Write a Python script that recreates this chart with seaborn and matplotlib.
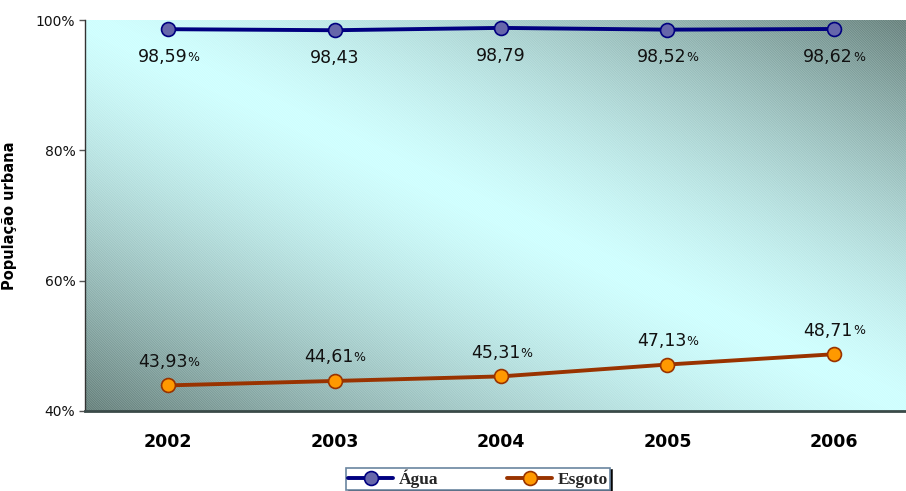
import matplotlib.pyplot as plt
import seaborn as sns
import pandas as pd
import numpy as np
from matplotlib.patches import Rectangle

years = ['2002', '2003', '2004', '2005', '2006']
agua = [98.59, 98.43, 98.79, 98.52, 98.62]
esgoto = [43.93, 44.61, 45.31, 47.13, 48.71]
agua_labels = ['98,59', '98,43', '98,79', '98,52', '98,62']
agua_pct = [True, False, False, True, True]
esgoto_labels = ['43,93', '44,61', '45,31', '47,13', '48,71']
esgoto_pct = [True, True, True, True, True]

sns.set_style('white')
plt.rcParams['font.family'] = ['DejaVu Sans']
plt.rcParams['hatch.linewidth'] = 0.6

df = pd.DataFrame({'pos': range(len(years)), 'Água': agua, 'Esgoto': esgoto})

W, H = 906, 491
fig = plt.figure(figsize=(W / 100, H / 100), dpi=100)
ax = fig.add_axes([85 / W, (H - 411) / H, (917 - 85) / W, (411 - 20) / H])

# gradient: light along the main diagonal, dark in the other two corners
u, v = np.meshgrid(np.linspace(0, 1, 300), np.linspace(0, 1, 300))
t = np.abs(u - v)
light = np.array([0.80, 1.0, 1.0])
dark = np.array([0.36, 0.47, 0.45])
img = light + (dark - light) * t[..., None] ** 1.4
ax.imshow(img, extent=[0, 1, 0, 1], transform=ax.transAxes, aspect='auto',
          origin='upper', zorder=0)
ax.add_patch(Rectangle((0, 0), 1, 1, transform=ax.transAxes, facecolor='none',
                       edgecolor=(1, 1, 1, 0.22), hatch='\\' * 14, lw=0, zorder=0.5))

sns.lineplot(data=df, x='pos', y='Água', ax=ax, color='#000080', lw=2.8,
             marker='o', markersize=10, markerfacecolor='#6666AA',
             markeredgecolor='#000080', markeredgewidth=1.2, label='Água', zorder=3)
sns.lineplot(data=df, x='pos', y='Esgoto', ax=ax, color='#993300', lw=2.8,
             marker='o', markersize=10, markerfacecolor='#FF9900',
             markeredgecolor='#993300', markeredgewidth=1.2, label='Esgoto', zorder=3)


def put_label(x, y, txt, pct, dy):
    tx = ax.annotate(txt, (x, y), xytext=(-4 if pct else 0, dy), textcoords='offset points',
                     ha='center', va='center', fontsize=12.5, color='#111111', zorder=4)
    if pct:
        ax.annotate('%', xy=(1, 0.12), xycoords=tx, ha='left', va='bottom',
                    fontsize=9, color='#111111', zorder=4)


for i in range(len(years)):
    put_label(i, agua[i], agua_labels[i], agua_pct[i], -20)
    put_label(i, esgoto[i], esgoto_labels[i], esgoto_pct[i], 17)

ax.set_xlim(-0.5, 4.5)
ax.set_ylim(40, 100)
ax.set_yticks([40, 60, 80, 100])
ax.set_yticklabels(['40%', '60%', '80%', '100%'], fontsize=10, color='#111111')
ax.set_xticks(range(len(years)))
ax.set_xticklabels(years, fontsize=12.5, fontweight='bold', color='#000000')
ax.set_xticks(np.arange(0.5, 4.5, 1), minor=True)
ax.tick_params(axis='x', which='major', length=0, pad=16)
ax.tick_params(axis='x', which='minor', length=5, width=1, color='#333333', direction='out')
ax.tick_params(axis='y', length=4, width=1, color='#555555', direction='out', pad=3, left=True)
ax.set_xlabel('')
ax.set_ylabel('População urbana', fontsize=10.5, fontweight='bold', color='#000000')
ax.yaxis.set_label_coords(-68 / (917 - 85), 0.5)

for s in ['top', 'right']:
    ax.spines[s].set_visible(False)
ax.spines['left'].set_color('#333333')
ax.spines['left'].set_linewidth(1)
ax.spines['bottom'].set_color('#3a4a48')
ax.spines['bottom'].set_linewidth(2)

ax.get_legend().remove()
h, l = ax.get_legend_handles_labels()
leg = fig.legend(h, l, loc='upper center', bbox_to_anchor=(478 / W, 1 - 459 / H), ncol=2,
                 frameon=True, fancybox=False, shadow={'color': '#000000', 'alpha': 0.9},
                 handlelength=2.6, columnspacing=4, borderpad=0.1, handletextpad=0.3,
                 prop={'family': 'Liberation Serif', 'weight': 'bold', 'size': 12.5})
leg.get_frame().set_edgecolor('#6a85a0')
leg.get_frame().set_linewidth(1.2)

fig.savefig('out.png', dpi=100)
